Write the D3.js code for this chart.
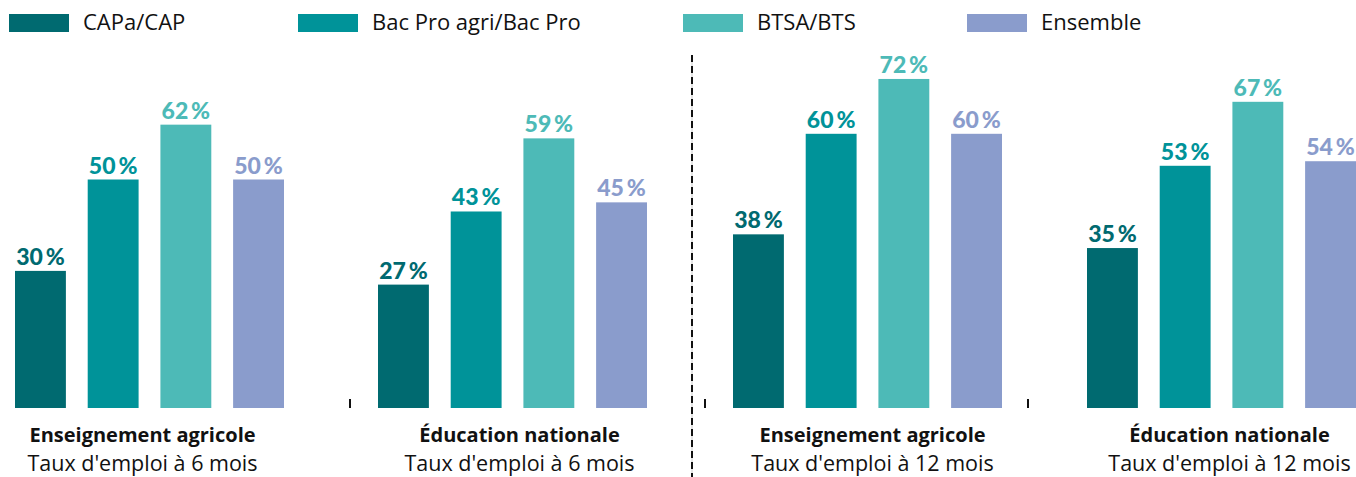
<!DOCTYPE html>
<html>
<head>
<meta charset="utf-8">
<script src="https://cdn.jsdelivr.net/npm/d3@7"></script>
<style>
  html, body { margin: 0; padding: 0; background: #fff; }
  svg { display: block; }
</style>
</head>
<body>
<svg id="chart" width="1356" height="477"></svg>
<script>
// ---- data ----
const series = ["CAPa/CAP", "Bac Pro agri/Bac Pro", "BTSA/BTS", "Ensemble"];
const groupTitles = ["Enseignement agricole", "Éducation nationale", "Enseignement agricole", "Éducation nationale"];
const groupSubtitles = ["Taux d'emploi à 6 mois", "Taux d'emploi à 6 mois", "Taux d'emploi à 12 mois", "Taux d'emploi à 12 mois"];
const valuesAgri6 = [30, 50, 62, 50];
const valuesEN6 = [27, 43, 59, 45];
const valuesAgri12 = [38, 60, 72, 60];
const valuesEN12 = [35, 53, 67, 54];
const groupValues = [valuesAgri6, valuesEN6, valuesAgri12, valuesEN12];

// ---- styles / layout ----
const colors = ["#006a70", "#009399", "#4dbab7", "#8a9ccc"];
const textFont = "'Open Sans', Lato, sans-serif";
const valueFont = "Lato, 'Open Sans', sans-serif";
const legendX = [9, 298, 683, 967];
const panels = [
  { groups: [0, 1], range: [15, 647], pad: 1 - 269 / 363 },
  { groups: [2, 3], range: [733, 1356], pad: 1 - 269 / 354 }
];
const labelShift = [-7, 7, 5, 8];
const tickShift = [null, -28, -28, -59];

const svg = d3.select("#chart");
const y = d3.scaleLinear().domain([0, 100]).range([408, 408 - 457]);
const color = d3.scaleOrdinal().domain(series).range(colors);

// legend
const leg = svg.append("g");
series.forEach((s, i) => {
  const g = leg.append("g").attr("transform", `translate(${legendX[i]},14)`);
  g.append("rect").attr("width", 60).attr("height", 18).attr("fill", color(s));
  g.append("text").attr("x", 74).attr("y", 16)
    .attr("font-family", textFont).attr("font-size", 22).attr("fill", "#111")
    .text(s);
});

// panels
panels.forEach(p => {
  const gx = d3.scaleBand().domain(p.groups).range(p.range).paddingInner(p.pad).paddingOuter(0);
  p.groups.forEach(gi => {
    const inner = d3.scaleBand().domain(series).range([0, gx.bandwidth()]).paddingInner(0.3).paddingOuter(0);
    const x0 = gx(gi);
    const g = svg.append("g").attr("transform", `translate(${x0},0)`);
    const vals = groupValues[gi];
    g.selectAll("rect").data(series).join("rect")
      .attr("x", d => inner(d))
      .attr("width", inner.bandwidth())
      .attr("y", (d, i) => y(vals[i]))
      .attr("height", (d, i) => y(0) - y(vals[i]))
      .attr("fill", d => color(d));
    g.selectAll("text.val").data(series).join("text")
      .attr("class", "val")
      .attr("x", d => inner(d) + inner.bandwidth() / 2)
      .attr("y", (d, i) => y(vals[i]) - 6)
      .attr("text-anchor", "middle")
      .attr("font-family", valueFont).attr("font-weight", 900).attr("font-size", 23)
      .attr("fill", d => color(d))
      .text((d, i) => vals[i] + "\u2009%");
    const cx = gx.bandwidth() / 2 + labelShift[gi];
    g.append("text").attr("x", cx).attr("y", 442).attr("text-anchor", "middle")
      .attr("font-family", textFont).attr("font-weight", 700).attr("font-size", 20).attr("fill", "#111")
      .text(groupTitles[gi]);
    g.append("text").attr("x", cx).attr("y", 471).attr("text-anchor", "middle")
      .attr("font-family", textFont).attr("font-size", 21.5).attr("fill", "#111")
      .text(groupSubtitles[gi]);
    if (tickShift[gi] !== null) {
      g.append("line").attr("x1", tickShift[gi]).attr("x2", tickShift[gi])
        .attr("y1", 399).attr("y2", 408).attr("stroke", "#111").attr("stroke-width", 2);
    }
  });
});

// separator between 6-month and 12-month panels
svg.append("line").attr("x1", 692).attr("x2", 692).attr("y1", 55).attr("y2", 477)
  .attr("stroke", "#ccc").attr("stroke-width", 1);
svg.append("line").attr("x1", 692).attr("x2", 692).attr("y1", 55).attr("y2", 477)
  .attr("stroke", "#111").attr("stroke-width", 2).attr("stroke-dasharray", "7,4");
</script>
</body>
</html>
